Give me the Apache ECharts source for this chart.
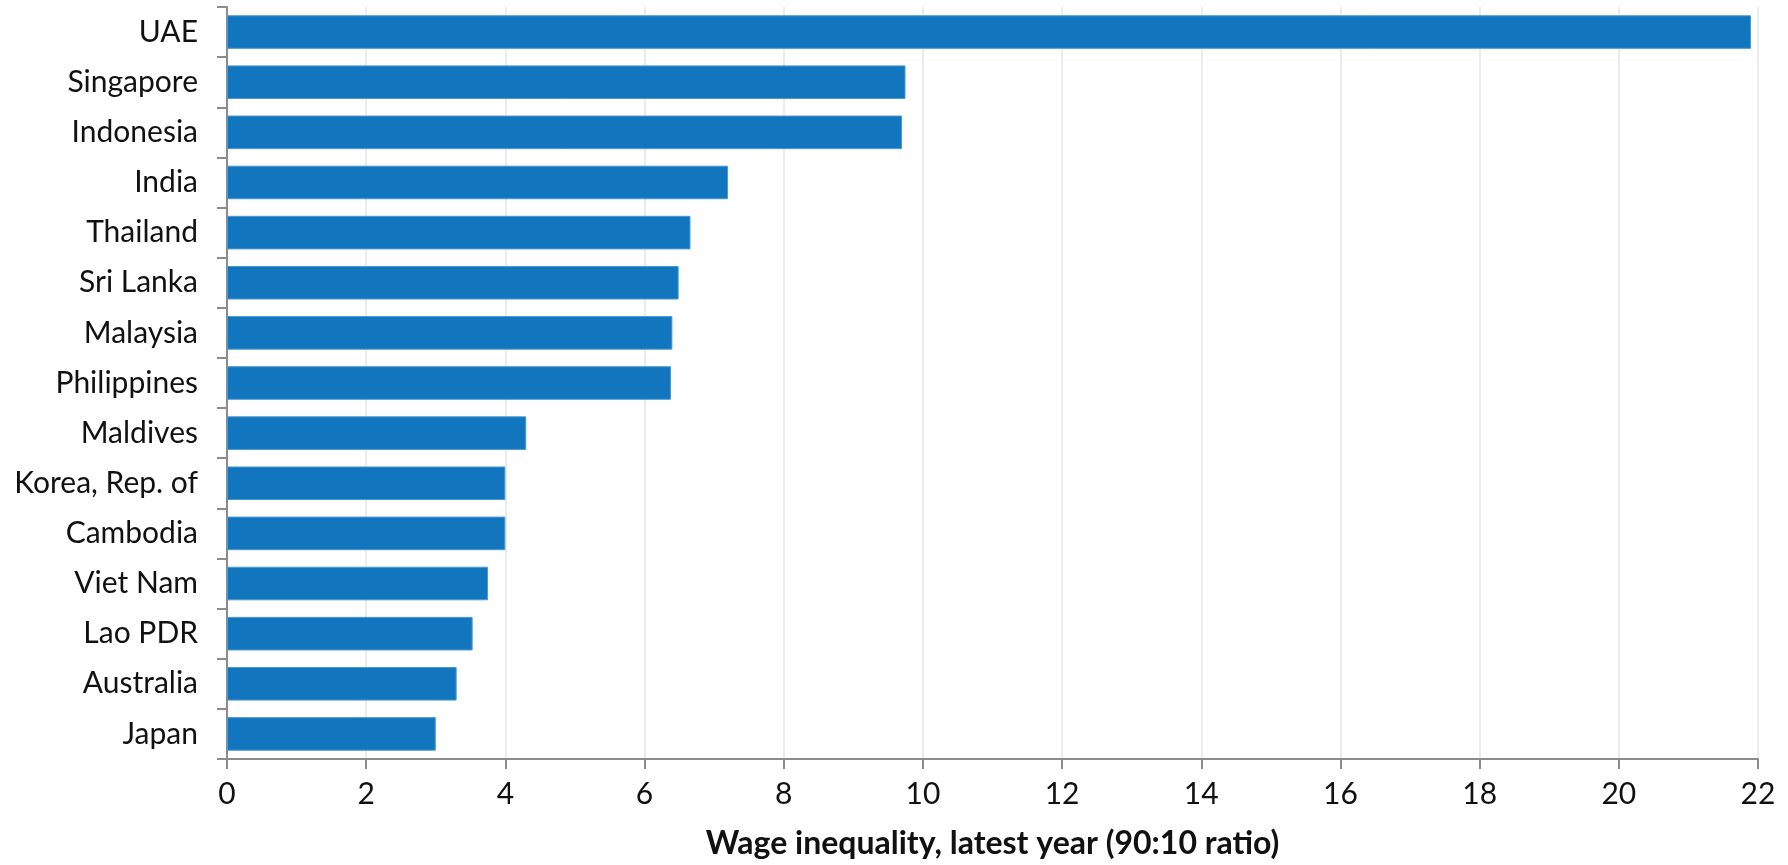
<!DOCTYPE html>
<html>
<head>
<meta charset="utf-8">
<style>
  html, body { margin: 0; padding: 0; background: #fff; }
  #chart { width: 1788px; height: 865px; }
</style>
<script src="https://cdn.jsdelivr.net/npm/echarts@6/dist/echarts.min.js"></script>
</head>
<body>
<div id="chart"></div>
<script>
const categories = ["UAE", "Singapore", "Indonesia", "India", "Thailand", "Sri Lanka", "Malaysia", "Philippines", "Maldives", "Korea, Rep. of", "Cambodia", "Viet Nam", "Lao PDR", "Australia", "Japan"];
const values = [21.9, 9.75, 9.7, 7.2, 6.66, 6.49, 6.4, 6.38, 4.3, 4.0, 4.0, 3.75, 3.53, 3.3, 3.0];
const xTicks = { min: 0, max: 22, interval: 2 };
const axisTitle = "Wage inequality, latest year (90:10 ratio)";

const FONT = "Lato, 'Open Sans', sans-serif";
const chart = echarts.init(document.getElementById('chart'));
chart.setOption({
  animation: false,
  grid: { left: 227, right: 30, top: 7, bottom: 102, containLabel: false },
  xAxis: {
    type: 'value',
    min: xTicks.min, max: xTicks.max, interval: xTicks.interval,
    name: axisTitle,
    nameLocation: 'middle',
    nameGap: 69,
    nameTextStyle: { fontFamily: FONT, fontWeight: 'bold', fontSize: 32, color: '#111', padding: [0, 0, 0, 0] },
    axisLine: { show: true, lineStyle: { color: '#8c8c8c', width: 2 } },
    axisTick: { show: true, length: 10, lineStyle: { color: '#8c8c8c', width: 2 } },
    axisLabel: { fontFamily: FONT, fontSize: 30, color: '#111', margin: 20 },
    splitLine: { show: true, lineStyle: { color: '#ececec', width: 2 } }
  },
  yAxis: {
    type: 'category',
    inverse: true,
    data: categories,
    axisLine: { show: true, lineStyle: { color: '#8c8c8c', width: 2 } },
    axisTick: { show: true, length: 10, lineStyle: { color: '#8c8c8c', width: 2 } },
    axisLabel: { fontFamily: FONT, fontSize: 30, color: '#111', margin: 29 },
    splitLine: { show: false }
  },
  series: [{
    type: 'bar',
    data: values,
    barCategoryGap: '33%',
    itemStyle: { color: '#1176bd', borderColor: '#4a9ad3', borderWidth: 1 }
  }]
});
</script>
</body>
</html>
